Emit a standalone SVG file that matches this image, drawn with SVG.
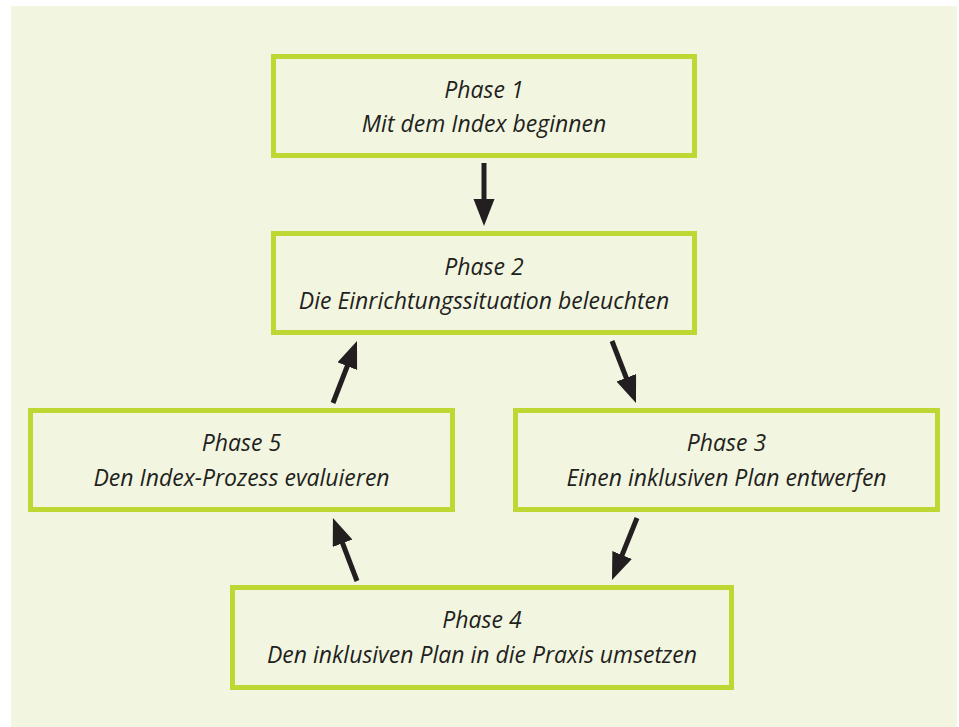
<svg xmlns="http://www.w3.org/2000/svg" width="959" height="727" viewBox="0 0 959 727">
<style>
.box{fill:#F2F6E1;stroke:#BFD732;stroke-width:5}
.t{font-family:"Open Sans","Noto Sans","Liberation Sans",sans-serif;font-style:italic;font-size:23px;fill:#231F20;text-anchor:middle}
.c{stroke:#231F20;stroke-width:5;fill:none;marker-end:url(#ah)}
</style>
<defs>
<marker id="ah" markerUnits="userSpaceOnUse" markerWidth="28" markerHeight="22" refX="12" refY="10.5" orient="auto">
<path d="M0,0 L27,10.5 L0,21 Z" fill="#231F20"/>
</marker>
</defs>
<rect x="0" y="0" width="959" height="727" fill="#FFFFFF"/>
<rect x="11" y="6" width="946" height="721" fill="#F2F6E1"/>
<g id="phase1">
<rect class="box" x="273.5" y="56.5" width="421" height="99"/>
<text class="t" x="484" y="98">Phase 1</text>
<text class="t" x="484" y="132">Mit dem Index beginnen</text>
</g>
<g id="phase2">
<rect class="box" x="273.5" y="233.5" width="421" height="99"/>
<text class="t" x="484" y="275">Phase 2</text>
<text class="t" x="484" y="309">Die Einrichtungssituation beleuchten</text>
</g>
<g id="phase3">
<rect class="box" x="515.5" y="410.5" width="422" height="99"/>
<text class="t" x="726.5" y="451">Phase 3</text>
<text class="t" x="726.5" y="486">Einen inklusiven Plan entwerfen</text>
</g>
<g id="phase4">
<rect class="box" x="232.5" y="587.5" width="499" height="100"/>
<text class="t" x="482" y="628">Phase 4</text>
<text class="t" x="482" y="663">Den inklusiven Plan in die Praxis umsetzen</text>
</g>
<g id="phase5">
<rect class="box" x="30.5" y="410.5" width="422" height="99"/>
<text class="t" x="241.5" y="451">Phase 5</text>
<text class="t" x="241.5" y="486">Den Index-Prozess evaluieren</text>
</g>
<g id="connectors">
<line class="c" x1="484" y1="163" x2="484" y2="211"/>
<line class="c" x1="612" y1="341" x2="630.6" y2="389"/>
<line class="c" x1="637" y1="518" x2="617.6" y2="566.1"/>
<line class="c" x1="357" y1="581" x2="338.3" y2="532"/>
<line class="c" x1="333" y1="403" x2="351.6" y2="355"/>
</g>
</svg>
